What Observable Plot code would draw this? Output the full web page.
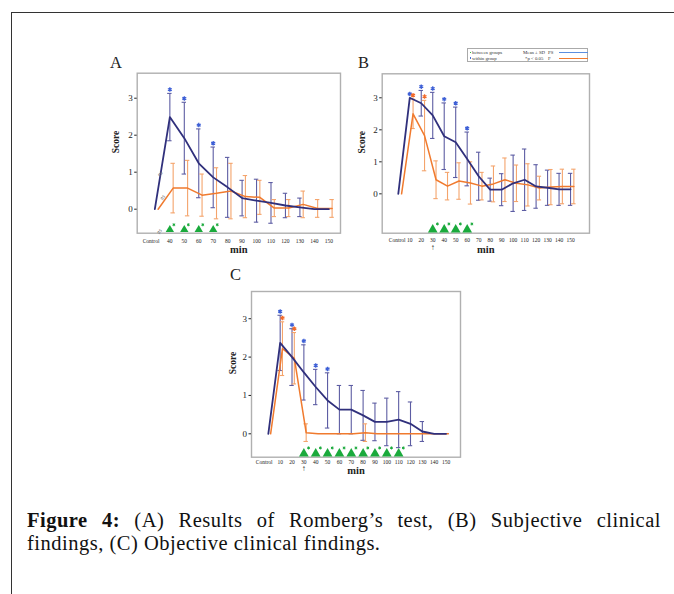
<!DOCTYPE html>
<html><head><meta charset="utf-8">
<script src="https://cdn.jsdelivr.net/npm/d3@7"></script>
<script src="https://cdn.jsdelivr.net/npm/@observablehq/plot@0.6"></script>
<style>
body{margin:0;background:#fff;}
#page{position:relative;width:674px;height:594px;overflow:hidden;background:#fff;font-family:"Liberation Serif","DejaVu Serif",serif;color:#111;}
#border{position:absolute;left:11px;top:12px;width:700px;height:620px;border-top:1.5px solid #333;border-left:1.5px solid #333;}
.panel{position:absolute;}
.letter{position:absolute;font-size:16.5px;line-height:16.5px;color:#222;}
#legend{position:absolute;left:467px;top:47.5px;width:121px;height:14px;border:1px solid #aaa;box-sizing:border-box;font-size:4.8px;line-height:5px;color:#333;}
#legend span,#legend i{position:absolute;white-space:nowrap;}
#caption{position:absolute;left:27px;top:509px;width:634px;font-size:20.5px;line-height:22.5px;letter-spacing:0.5px;color:#111;}
</style></head>
<body><div id="page">
<div id="border"></div>
<div class="letter" style="left:110px;top:54.5px">A</div>
<div class="letter" style="left:358px;top:54.5px">B</div>
<div class="letter" style="left:230px;top:267px">C</div>
<div class="panel" id="pA" style="left:90px;top:50px"></div>
<div class="panel" id="pB" style="left:345px;top:45px"></div>
<div class="panel" id="pC" style="left:215px;top:275px"></div>
<div id="legend"></div>
<div id="caption"><div style="text-align:justify;text-align-last:justify"><b>Figure 4:</b> (A) Results of Romberg’s test, (B) Subjective clinical</div><div>findings, (C) Objective clinical findings.</div></div>
</div>
<script>
// ---------- Panel A: Romberg's test ----------
const tickLabelsA = ["Control","40","50","60","70","80","90","100","110","120","130","140","150"];
const tickPosA = [27,40,50,60,70,80,90,100,110,120,130,140,150];
const minutesA = [29.6,40,50,60,70,80,90,100,110,120,130,140,150];
const psMeanA = [0,2.49,1.92,1.24,0.86,0.59,0.30,0.23,0.17,0.10,0.05,0,0];
const psSdA   = [0,0.64,0.97,0.93,0.82,0.81,0.48,0.58,0.55,0.33,0.25,0,0];
const fMeanA  = [0,0.57,0.57,0.38,0.43,0.49,0.34,0.32,0.03,0.03,0.13,0.02,0.02];
const fSdA    = [0,0.67,0.75,0.57,0.69,0.75,0.57,0.46,0.23,0.23,0.36,0.24,0.24];
const psStarsA = [40,50,60,70];
const fStarsA = [];
const betweenA = [40,50,60,70];

// ---------- Panel B: Subjective clinical findings ----------
const tickLabelsB = ["Control","10","20","30","40","50","60","70","80","90","100","110","120","130","140","150"];
const tickPosB = [-1,10,20,30,40,50,60,70,80,90,100,110,120,130,140,150];
const minutesB = [0,10,20,30,40,50,60,70,80,90,100,110,120,130,140,150];
const psMeanB = [0,3.0,2.83,2.45,1.80,1.61,1.09,0.55,0.13,0.13,0.33,0.44,0.23,0.19,0.14,0.14];
const psSdB   = [0,0,0.40,0.72,1.04,1.10,0.84,0.75,0.36,0.50,0.88,0.96,0.68,0.55,0.50,0.50];
const fMeanB  = [0,2.5,1.82,0.44,0.24,0.40,0.34,0.24,0.31,0.44,0.33,0.28,0.18,0.21,0.23,0.23];
const fSdB    = [0,0.46,1.10,0.59,0.43,0.57,0.66,0.43,0.56,0.68,0.57,0.66,0.37,0.55,0.54,0.54];
const psStarsB = [10,20,30,40,50,60];
const fStarsB = [10,20];
const betweenB = [30,40,50,60];
const arrowB = [30];

// ---------- Panel C: Objective clinical findings ----------
const tickLabelsC = tickLabelsB;
const tickPosC = [-3.5,10,20,30,40,50,60,70,80,90,100,110,120,130,140,150];
const minutesC = [0,10,20,30,40,50,60,70,80,90,100,110,120,130,140,150];
const psMeanC = [0,2.37,2.0,1.6,1.22,0.87,0.63,0.63,0.48,0.31,0.31,0.37,0.26,0.06,0,0];
const psSdC   = [0,0.72,0.74,0.72,0.46,0.72,0.63,0.63,0.65,0.49,0.62,0.73,0.57,0.26,0,0];
const fMeanC  = [0,2.22,1.97,0.03,0,0,0,0,0.03,0,0,0,0,0,0,0];
const fSdC    = [0,0.70,0.67,0.23,0,0,0,0,0.23,0,0,0,0,0,0,0];
const psStarsC = [10,20,30,40,50];
const fStarsC = [10,20];
const betweenC = [30,40,50,60,70,80,90,100,110];
const arrowC = [30];

const yTicks = [0,1,2,3];

// legend
const legendRows = [
  {dot:"#39b54a", group:"between groups", stat:"Mean ± SD", series:"PS", line:"#5b8fe0"},
  {dot:"#4a74d8", group:"within group", stat:"*p < 0.05", series:"F", line:"#f07b2f"}
];

const PS_LINE = "#30307c", PS_BAR = "#5d5da3", PS_STAR = "#3d5fd6";
const F_LINE = "#f07a2e", F_BAR = "#f4a46c", F_STAR = "#f26a2a";
const GREEN = "#1aaa3c";

function rows(xs, mean, sd){
  return xs.map((x,i)=>({x, mean:mean[i], sd:sd[i], lo:mean[i]-sd[i], hi:mean[i]+sd[i]}));
}

function panel(o){
  const ps = rows(o.x, o.psMean, o.psSd);
  const f = rows(o.x, o.fMean, o.fSd);
  const pxPerUnit = (o.width - o.ml - o.mr)/(o.xDomain[1]-o.xDomain[0]);
  const cap = 2.2/pxPerUnit;
  const lbl = new Map(o.ticks.map((t,i)=>[t,o.tickLabels[i]]));
  const bars = (data, color, dx) => {
    const d = data.filter(r=>r.sd>0);
    return [
      Plot.link(d, {x1:"x", x2:"x", y1:"lo", y2:"hi", stroke:color, strokeWidth:1.1, dx}),
      Plot.ruleY(d, {x1:r=>r.x-cap, x2:r=>r.x+cap, y:"hi", stroke:color, strokeWidth:1.1, dx}),
      Plot.ruleY(d, {x1:r=>r.x-cap, x2:r=>r.x+cap, y:"lo", stroke:color, strokeWidth:1.1, dx})
    ];
  };
  const marks = [
    Plot.frame({stroke:"#b0b0b0", strokeWidth:1.4}),
    Plot.axisY({ticks:yTicks, tickFormat:d=>String(d), tickSize:2.5, tickPadding:2, fontSize:9, label:null}),
    Plot.axisX({ticks:o.ticks, tickFormat:d=>lbl.get(d), tickSize:0, tickPadding:o.xPad, fontSize:5.5, label:null}),
    Plot.text(["Score"], {frameAnchor:"left", dx:o.scoreDx, rotate:-90, text:d=>d, fontWeight:"bold", fontSize:9.5, fill:"#222"}),
    Plot.text(["min"], {frameAnchor:"bottom", dy:o.minDy, text:d=>d, fontWeight:"bold", fontSize:10.5, fill:"#222"}),
    ...bars(ps, PS_BAR, 0),
    ...bars(f, F_BAR, o.fdx),
    Plot.line(f, {x:"x", y:"mean", stroke:F_LINE, strokeWidth:1.5, dx:o.fdx}),
    Plot.line(ps, {x:"x", y:"mean", stroke:PS_LINE, strokeWidth:1.8}),
    Plot.dot(ps.filter(r=>o.psStars.includes(r.x)), {x:"x", y:"hi", dy:-3.8, symbol:"asterisk", r:2.1, stroke:PS_STAR, strokeWidth:1.3}),
    Plot.dot(f.filter(r=>o.fStars.includes(r.x)), {x:"x", y:"hi", dx:o.fdx, dy:-3.8, symbol:"asterisk", r:2.1, stroke:F_STAR, strokeWidth:1.3}),
    Plot.dot(o.between, {x:d=>d, frameAnchor:"bottom", dy:o.triDy, symbol:"triangle", r:o.triR, fill:GREEN}),
    Plot.dot(o.between, {x:d=>d, frameAnchor:"bottom", dy:o.triDy - o.triR*1.6, dx:o.triR*1.3, symbol:"asterisk", r:1.4, stroke:GREEN, strokeWidth:1})
  ];
  if (o.arrow) marks.push(Plot.text(o.arrow, {x:d=>d, frameAnchor:"bottom", dy:o.arrowDy, text:()=>"↑", fontSize:8, fill:"#222"}));
  if (o.breaks) {
    const x0 = o.x[0], x1 = o.x[1];
    const brk = [
      {x:x0+(x1-x0)*0.38, y:ps[0].mean+(ps[1].mean-ps[0].mean)*0.38},
      {x:x0+(x1-x0)*0.55, y:f[0].mean+(f[1].mean-f[0].mean)*0.55}
    ];
    marks.push(Plot.text(brk, {x:"x", y:"y", text:()=>"≈", rotate:-60, fontSize:9, fill:"#666"}));
    marks.push(Plot.text([(x0+x1)/2], {x:d=>d, frameAnchor:"bottom", dy:0, text:()=>"≈", rotate:-60, fontSize:9, fill:"#666"}));
  }
  return Plot.plot({
    width:o.width, height:o.height,
    marginLeft:o.ml, marginRight:o.mr, marginTop:o.mt, marginBottom:o.mb,
    x:{domain:o.xDomain, axis:null},
    y:{domain:o.yDomain, axis:null},
    style:{fontFamily:"'Liberation Serif', 'DejaVu Serif', serif", color:"#222", background:"transparent", overflow:"visible"},
    marks
  });
}

document.getElementById("pA").append(panel({
  width:260, height:210, ml:46.7, mr:10, mt:22.7, mb:27.3,
  xDomain:[17.4,158.1], yDomain:[-0.649,3.676],
  x:minutesA, ticks:tickPosA, tickLabels:tickLabelsA,
  psMean:psMeanA, psSd:psSdA, fMean:fMeanA, fSd:fSdA,
  psStars:psStarsA, fStars:fStarsA, between:betweenA,
  fdx:3.3, xPad:6, scoreDx:-21.7, minDy:19.5, triR:3.1, triDy:-3.5, breaks:true
}));
document.getElementById("pB").append(panel({
  width:255, height:215, ml:36.7, mr:11, mt:28.3, mb:27.3,
  xDomain:[-14,166.5], yDomain:[-1.23,3.75],
  x:minutesB, ticks:tickPosB, tickLabels:tickLabelsB,
  psMean:psMeanB, psSd:psSdB, fMean:fMeanB, fSd:fSdB,
  psStars:psStarsB, fStars:fStarsB, between:betweenB,
  fdx:3.3, xPad:5, scoreDx:-20, minDy:20, triR:3.6, triDy:-3.5, arrow:arrowB, arrowDy:16.5
}));
document.getElementById("pC").append(panel({
  width:255, height:205, ml:36, mr:10, mt:16, mb:23.3,
  xDomain:[-14.2,162.2], yDomain:[-0.61,3.71],
  x:minutesC, ticks:tickPosC, tickLabels:tickLabelsC,
  psMean:psMeanC, psSd:psSdC, fMean:fMeanC, fSd:fSdC,
  psStars:psStarsC, fStars:fStarsC, between:betweenC,
  fdx:2.3, xPad:3, scoreDx:-18.3, minDy:17, triR:3.6, triDy:-3.5, arrow:arrowC, arrowDy:13.5
}));

// legend (HTML)
const lg = document.getElementById("legend");
legendRows.forEach((r,i)=>{
  const top = 1.5 + i*5.6;
  lg.insertAdjacentHTML("beforeend",
    `<i style="left:1.5px;top:${top+1.5}px;width:1.6px;height:1.6px;background:${r.dot}"></i>`+
    `<span style="left:4px;top:${top}px">${r.group}</span>`+
    `<span style="left:${i?57:55}px;top:${top}px">${r.stat}</span>`+
    `<span style="left:80px;top:${top}px">${r.series}</span>`+
    `<i style="left:91px;top:${top+2.2}px;width:29px;height:1.1px;background:${r.line}"></i>`);
});
</script>
</body></html>
